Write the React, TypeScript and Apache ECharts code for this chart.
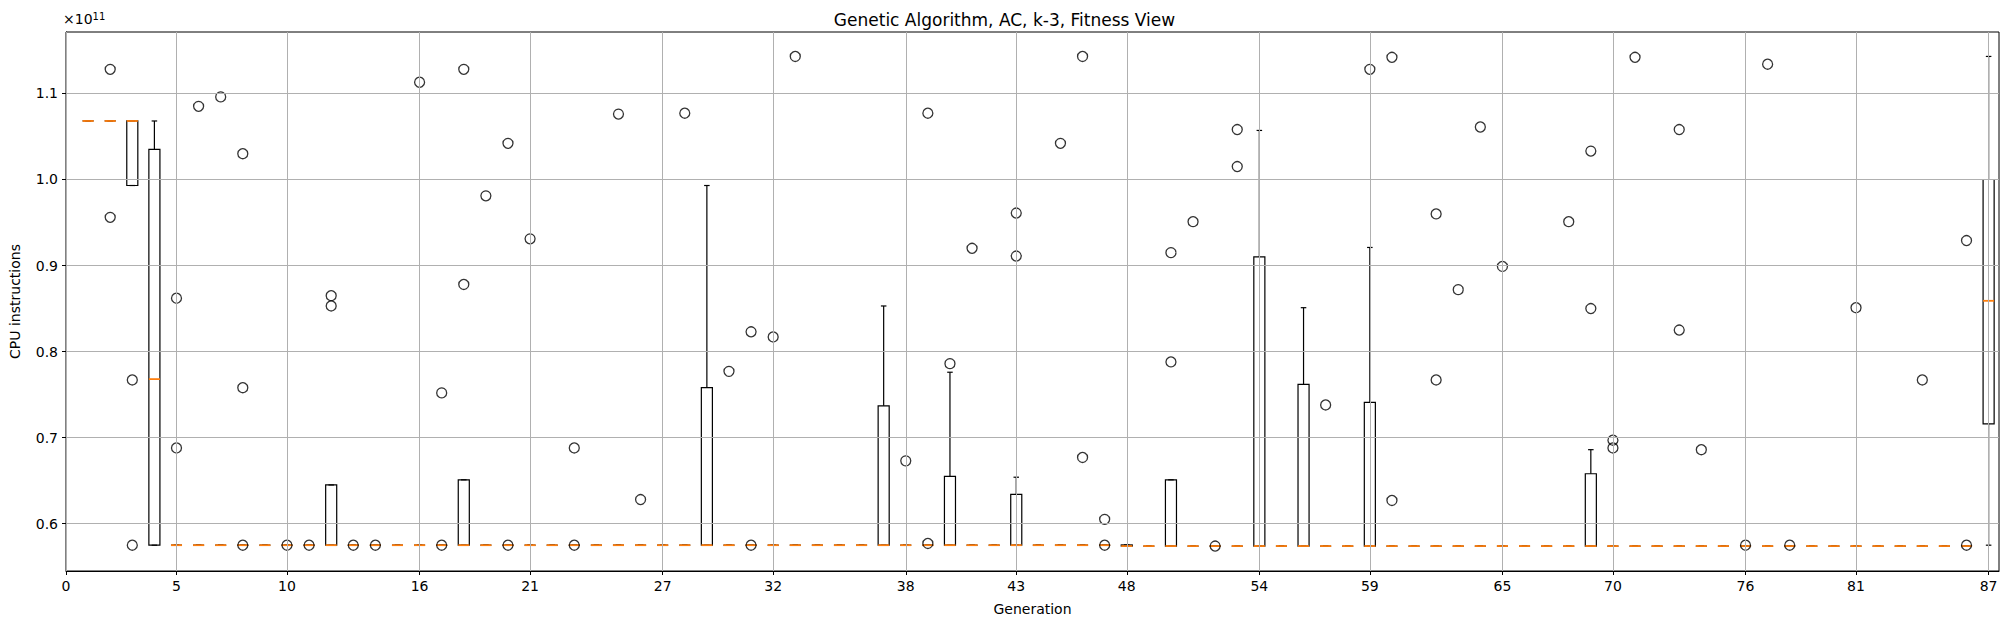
import React, { useEffect, useRef } from 'react';
import * as echarts from 'echarts';

// flat (all-equal) population value for generations 1..87
const flatLevels = [
  1.068, 1.068, 0.575, 0.575, 0.575, 0.575, 0.575, 0.575, 0.575, 0.575,
  0.575, 0.575, 0.575, 0.575, 0.575, 0.575, 0.575, 0.575, 0.575, 0.575,
  0.575, 0.575, 0.575, 0.575, 0.575, 0.575, 0.575, 0.575, 0.575, 0.575,
  0.575, 0.575, 0.575, 0.575, 0.575, 0.575, 0.575, 0.575, 0.575, 0.575,
  0.575, 0.575, 0.575, 0.575, 0.575, 0.575, 0.575, 0.574, 0.574, 0.574,
  0.574, 0.574, 0.574, 0.574, 0.574, 0.574, 0.574, 0.574, 0.574, 0.574,
  0.574, 0.574, 0.574, 0.574, 0.574, 0.574, 0.574, 0.574, 0.574, 0.574,
  0.574, 0.574, 0.574, 0.574, 0.574, 0.574, 0.574, 0.574, 0.574, 0.574,
  0.574, 0.574, 0.574, 0.574, 0.574, 0.574, 0.574,
];

// [generation, whiskerLow, q1, median, q3, whiskerHigh] (x 1e11)
const spreadBoxes = [
  [3, 0.993, 0.993, 1.068, 1.068, 1.068],
  [4, 0.575, 0.575, 0.768, 1.035, 1.068],
  [12, 0.575, 0.575, 0.575, 0.645, 0.645],
  [18, 0.575, 0.575, 0.575, 0.651, 0.651],
  [29, 0.575, 0.575, 0.575, 0.758, 0.993],
  [37, 0.575, 0.575, 0.575, 0.737, 0.853],
  [40, 0.575, 0.575, 0.575, 0.655, 0.776],
  [43, 0.575, 0.575, 0.575, 0.634, 0.654],
  [48, 0.574, 0.574, 0.574, 0.5753, 0.5753],
  [50, 0.574, 0.574, 0.574, 0.651, 0.651],
  [54, 0.574, 0.574, 0.574, 0.910, 1.057],
  [56, 0.574, 0.574, 0.574, 0.762, 0.851],
  [59, 0.574, 0.574, 0.574, 0.741, 0.921],
  [69, 0.574, 0.574, 0.574, 0.658, 0.686],
  [87, 0.575, 0.716, 0.859, 1.0, 1.143],
];

// [generation, value]
const outliers = [
  [2, 1.128], [2, 0.956], [3, 0.767], [3, 0.575], [5, 0.862], [5, 0.688],
  [6, 1.085], [7, 1.096], [8, 1.030], [8, 0.758], [8, 0.575], [10, 0.575],
  [11, 0.575], [12, 0.865], [12, 0.853], [13, 0.575], [14, 0.575], [16, 1.113],
  [17, 0.752], [17, 0.575], [18, 1.128], [18, 0.878], [19, 0.981], [20, 1.042],
  [20, 0.575], [21, 0.931], [23, 0.688], [23, 0.575], [25, 1.076], [26, 0.628],
  [28, 1.077], [30, 0.777], [31, 0.823], [31, 0.575], [32, 0.817], [33, 1.143],
  [38, 0.673], [39, 1.077], [39, 0.577], [40, 0.786], [41, 0.920], [43, 0.961],
  [43, 0.911], [45, 1.042], [46, 1.143], [46, 0.677], [47, 0.605], [47, 0.575],
  [50, 0.915], [50, 0.788], [51, 0.951], [52, 0.574], [53, 1.058], [53, 1.015],
  [57, 0.738], [59, 1.128], [60, 1.142], [60, 0.627], [62, 0.960], [62, 0.767],
  [63, 0.872], [64, 1.061], [65, 0.899], [68, 0.951], [69, 1.033], [69, 0.850],
  [70, 0.697], [70, 0.688], [71, 1.142], [73, 1.058], [73, 0.825], [74, 0.686],
  [76, 0.575], [77, 1.134], [78, 0.575], [81, 0.851], [84, 0.767], [86, 0.929],
  [86, 0.575],
];

const xTicks = [0, 5, 10, 16, 21, 27, 32, 38, 43, 48, 54, 59, 65, 70, 76, 81, 87];
const yTicks = [0.6, 0.7, 0.8, 0.9, 1.0, 1.1];

const FONT = 'DejaVu Sans';

const App: React.FC = () => {
  const chartRef = useRef<HTMLDivElement>(null);

  useEffect(() => {
    if (!chartRef.current) return;
    const chart = echarts.init(chartRef.current, undefined, { renderer: 'svg' });

    const special = new Map(spreadBoxes.map((b) => [b[0], b]));
    const boxes = flatLevels.map((v, i) => {
      const g = i + 1;
      return special.get(g) || [g, v, v, v, v, v];
    });

    const option: echarts.EChartsOption = {
      animation: false,
      title: {
        text: 'Genetic Algorithm, AC, k-3, Fitness View',
        left: 'center',
        top: 6,
        textStyle: { fontFamily: FONT, fontSize: 17, fontWeight: 'normal', color: '#000' },
      },
      grid: { left: 63, right: 10, top: 32, bottom: 53, show: true, borderColor: '#000', borderWidth: 1 },
      xAxis: {
        type: 'value',
        min: 0,
        max: 87.47,
        name: 'Generation',
        nameLocation: 'middle',
        nameGap: 31,
        nameTextStyle: { fontFamily: FONT, fontSize: 14, color: '#000' },
        axisLine: { lineStyle: { color: '#000' } },
        axisTick: { show: true, customValues: xTicks, length: 4, lineStyle: { color: '#000' } },
        axisLabel: { customValues: xTicks, fontFamily: FONT, fontSize: 14, color: '#000', margin: 8 },
        splitLine: { show: false },
      },
      yAxis: {
        type: 'value',
        min: 0.545,
        max: 1.1714,
        name: 'CPU instructions',
        nameLocation: 'middle',
        nameGap: 44,
        nameTextStyle: { fontFamily: FONT, fontSize: 14, color: '#000' },
        axisLine: { show: true, lineStyle: { color: '#000' } },
        axisTick: { show: true, customValues: yTicks, length: 4, lineStyle: { color: '#000' } },
        axisLabel: {
          customValues: yTicks,
          fontFamily: FONT,
          fontSize: 14,
          color: '#000',
          formatter: (v: number) => v.toFixed(1),
        },
        splitLine: { show: false },
      },
      graphic: [
        {
          type: 'text',
          left: 63,
          top: 11,
          style: {
            text: '×10{s|11}',
            font: `14px ${FONT}`,
            fill: '#000',
            rich: { s: { fontSize: 10, verticalAlign: 'top', fontFamily: FONT, padding: [0, 0, 6, 0] } },
          },
        },
      ],
      series: [
        {
          type: 'line',
          data: [],
          z: 1,
          silent: true,
          markLine: {
            symbol: 'none',
            silent: true,
            label: { show: false },
            lineStyle: { color: '#b0b0b0', width: 1, type: 'solid' },
            data: [
              ...xTicks.map((x) => ({ xAxis: x })),
              ...yTicks.map((y) => ({ yAxis: y })),
            ],
          },
        },
        {
          type: 'custom',
          z: 3,
          clip: false,
          data: boxes,
          encode: { x: 0, y: [1, 2, 3, 4, 5] },
          renderItem: (params: any, api: any) => {
            const g = api.value(0);
            const wlo = api.coord([g, api.value(1)]);
            const q1 = api.coord([g, api.value(2)]);
            const med = api.coord([g, api.value(3)]);
            const q3 = api.coord([g, api.value(4)]);
            const whi = api.coord([g, api.value(5)]);
            const half = api.size([0.5, 0])[0] / 2;
            const cap = half / 2;
            const x = q1[0];
            const stroke = { stroke: '#000', lineWidth: 1.2, fill: 'none' };
            return {
              type: 'group',
              children: [
                { type: 'line', shape: { x1: x, y1: q1[1], x2: x, y2: wlo[1] }, style: stroke },
                { type: 'line', shape: { x1: x, y1: q3[1], x2: x, y2: whi[1] }, style: stroke },
                { type: 'line', shape: { x1: x - cap, y1: wlo[1], x2: x + cap, y2: wlo[1] }, style: stroke },
                { type: 'line', shape: { x1: x - cap, y1: whi[1], x2: x + cap, y2: whi[1] }, style: stroke },
                {
                  type: 'rect',
                  shape: { x: x - half, y: q3[1], width: half * 2, height: Math.max(q1[1] - q3[1], 0) },
                  style: stroke,
                },
                {
                  type: 'line',
                  shape: { x1: x - half, y1: med[1], x2: x + half, y2: med[1] },
                  style: { stroke: '#ff7f0e', lineWidth: 1.8 },
                },
              ],
            };
          },
        },
        {
          type: 'scatter',
          z: 4,
          data: outliers,
          symbol: 'circle',
          symbolSize: 10,
          itemStyle: { color: 'rgba(0,0,0,0)', borderColor: '#000', borderWidth: 1.3 },
        },
      ],
    };

    chart.setOption(option);
    return () => {
      chart.dispose();
    };
  }, []);

  return <div ref={chartRef} style={{ width: '2009px', height: '624px', margin: '-8px' }} />;
};

export default App;
